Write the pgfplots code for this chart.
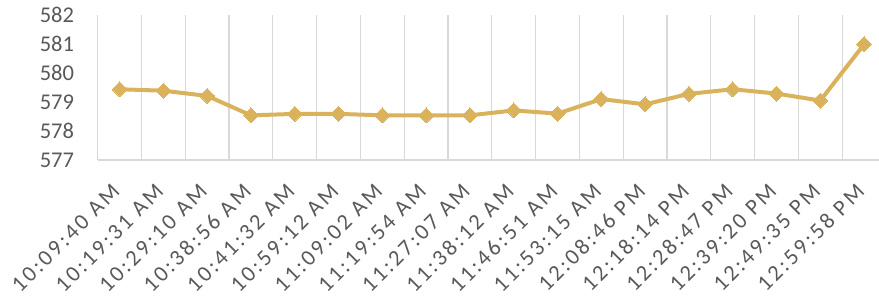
\documentclass[border=0pt]{standalone}
\usepackage{pgfplots}
\pgfplotsset{compat=1.18}
\usepackage{fontspec}
\setmainfont{Carlito}
\newfontfamily\xlabfont[LetterSpace=12]{Carlito}
\definecolor{cgold}{HTML}{DAB25C}
\definecolor{cgrid}{HTML}{D9D9D9}
\definecolor{ctext}{HTML}{595959}
\begin{document}
\begin{tikzpicture}
\begin{axis}[
  at={(0,0)}, anchor=south west,
  scale only axis, width=781.3pt, height=145pt,
  xmin=-0.5, xmax=17.34, ymin=577, ymax=582,
  xtick={0,...,17},
  xticklabels={10:09:40 AM,10:19:31 AM,10:29:10 AM,10:38:56 AM,10:41:32 AM,10:59:12 AM,11:09:02 AM,11:19:54 AM,11:27:07 AM,11:38:12 AM,11:46:51 AM,11:53:15 AM,12:08:46 PM,12:18:14 PM,12:28:47 PM,12:39:20 PM,12:49:35 PM,12:59:58 PM},
  minor xtick={-0.5,0.5,...,16.5},
  minor x grid style={cgrid, line width=1.2pt},
  xminorgrids=true, xmajorgrids=false,
  ytick={577,...,582},
  major tick length=0pt, minor tick length=0pt,
  separate axis lines,
  axis x line*=bottom, axis y line*=left,
  x axis line style={draw=cgrid, line width=1.2pt, -},
  y axis line style={draw=none},
  /pgf/number format/assume math mode=true,
  tick label style={font=\fontsize{22.5}{27}\selectfont, text=ctext},
  yticklabel style={anchor=east, inner sep=0pt, xshift=-23.5pt},
  xticklabel style={font=\xlabfont\fontsize{22.5}{27}\selectfont, xshift=-3.7pt, yshift=-27.8pt, rotate=45, anchor=east, inner sep=0pt},
  clip=false,
]
\addplot[color=cgold, line width=4pt, mark=square*, mark size=5.3pt, mark options={rotate=45, fill=cgold, draw=cgold, line width=0pt}]
coordinates {
(0,579.44) (1,579.39) (2,579.21) (3,578.54) (4,578.59) (5,578.59) (6,578.54) (7,578.54) (8,578.54) (9,578.71) (10,578.60) (11,579.10) (12,578.92) (13,579.28) (14,579.44) (15,579.29) (16,579.05) (17,580.99)
};
\end{axis}
\pgfresetboundingbox
\path (-97.7pt,-141pt) rectangle (781.3pt,160pt);
\end{tikzpicture}
\end{document}
